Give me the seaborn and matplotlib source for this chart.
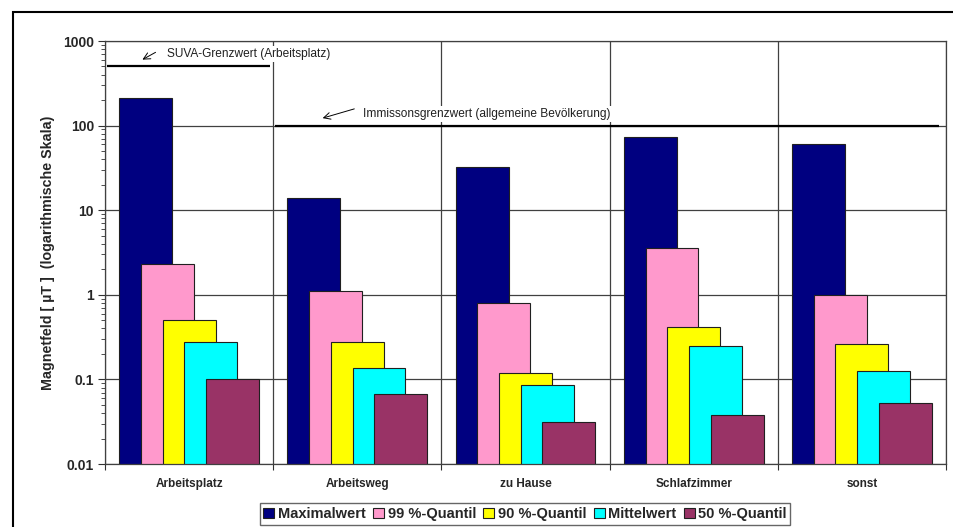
import numpy as np
import pandas as pd
import matplotlib
matplotlib.use("Agg")
import matplotlib.pyplot as plt
import matplotlib.patches as mpatches
import seaborn as sns

# Magnetic field exposure per location (µT)
categories = ["Arbeitsplatz", "Arbeitsweg", "zu Hause", "Schlafzimmer", "sonst"]
series_names = ["Maximalwert", "99 %-Quantil", "90 %-Quantil", "Mittelwert", "50 %-Quantil"]
maximalwert = [210, 14, 32, 74, 60]
quantil_99 = [2.3, 1.1, 0.8, 3.6, 1.0]
quantil_90 = [0.5, 0.28, 0.12, 0.42, 0.26]
mittelwert = [0.28, 0.136, 0.086, 0.25, 0.127]
quantil_50 = [0.1, 0.067, 0.031, 0.038, 0.052]
suva_limit = 500        # workplace limit
immission_limit = 100   # general population limit

series_values = [maximalwert, quantil_99, quantil_90, mittelwert, quantil_50]
colors = ["#000080", "#FF99CC", "#FFFF00", "#00FFFF", "#993366"]

sns.set_theme(style="white")
plt.rcParams["font.family"] = ["Liberation Sans", "DejaVu Sans"]

fig = plt.figure(figsize=(9.54, 5.27), dpi=100)
ax = fig.add_axes([105 / 954, 1 - 464 / 527, (946 - 105) / 954, (464 - 41) / 527])

# Overlapping bars: each series shifted by a fixed step within its category
step = 0.129
bar_width = 0.315
idx = np.arange(len(categories))
for k, (name, vals, col) in enumerate(zip(series_names, series_values, colors)):
    df = pd.DataFrame({"x": idx + (k - 2) * step, "y": vals})
    sns.barplot(data=df, x="x", y="y", native_scale=True, width=bar_width,
                color=col, saturation=1, edgecolor="#202020", linewidth=0.8,
                label=name, ax=ax, zorder=2)
if ax.get_legend() is not None:
    ax.get_legend().remove()

ax.set_yscale("log")
ax.set_ylim(0.01, 1000)
ax.set_xlim(-0.5, len(categories) - 0.5)

# Category boundaries carry the tick marks and vertical grid lines
ax.set_xticks(np.arange(len(categories) + 1) - 0.5)
ax.set_xticklabels([])
ax.set_xticks(idx, minor=True)
ax.set_xticklabels(categories, minor=True, fontsize=8.5, fontweight="bold")
ax.tick_params(axis="x", which="major", direction="out", length=4, width=0.8,
               color="#303030", bottom=True)
ax.tick_params(axis="x", which="minor", length=0, pad=10)

ax.set_yticks([0.01, 0.1, 1, 10, 100, 1000])
ax.set_yticklabels(["0.01", "0.1", "1", "10", "100", "1000"],
                   fontsize=10, fontweight="bold")
ax.yaxis.set_minor_locator(matplotlib.ticker.LogLocator(base=10, subs=np.arange(2, 10)))
ax.yaxis.set_minor_formatter(matplotlib.ticker.NullFormatter())
ax.tick_params(axis="y", which="major", direction="out", length=5, width=0.8,
               color="#303030", left=True, pad=3)
ax.tick_params(axis="y", which="minor", direction="out", length=3, width=0.6,
               color="#303030", left=True)

ax.grid(True, which="major", axis="both", color="#404040", linewidth=0.9, zorder=0)
ax.set_axisbelow(True)
for s in ax.spines.values():
    s.set_color("#404040")
    s.set_linewidth(0.9)

ax.set_xlabel("")
ax.set_ylabel("Magnetfeld [ µT ]  (logarithmische Skala)", fontsize=10.3,
              fontweight="bold", labelpad=6)

# Limit values with their labels (white boxes mask the grid behind the text)
label_box = dict(facecolor="white", edgecolor="none", pad=1.5)
ax.hlines(suva_limit, -0.49, 0.48, color="black", linewidth=1.6, zorder=3)
ax.hlines(immission_limit, 0.51, 4.46, color="black", linewidth=1.6, zorder=3)
ax.annotate("", xy=(-0.292, 581), xytext=(-0.185, 762),
            arrowprops=dict(arrowstyle="->", color="black", lw=0.7))
ax.text(-0.131, 701, "SUVA-Grenzwert (Arbeitsplatz)", fontsize=8.6,
        va="center", ha="left", color="#202020", bbox=label_box, zorder=4)
ax.annotate("", xy=(0.778, 120), xytext=(0.998, 161),
            arrowprops=dict(arrowstyle="->", color="black", lw=0.7))
ax.text(1.034, 137, "Immissonsgrenzwert (allgemeine Bevölkerung)", fontsize=8.6,
        va="center", ha="left", color="#202020", bbox=label_box, zorder=4)

handles, labels = ax.get_legend_handles_labels()
leg = fig.legend(handles, labels, loc="center", ncol=5,
                 bbox_to_anchor=(525 / 954, 1 - 514 / 527),
                 prop={"size": 10.5, "weight": "bold"},
                 frameon=True, fancybox=False, edgecolor="#404040",
                 handlelength=0.75, handleheight=0.75, handletextpad=0.25,
                 columnspacing=0.5, borderpad=0.25, borderaxespad=0)
leg.get_frame().set_linewidth(1.0)

# Outer chart frame
fig.patches.append(mpatches.Rectangle((13 / 954, -0.1), 1.0, 1 - 12 / 527 + 0.1,
                                      transform=fig.transFigure, fill=False,
                                      edgecolor="black", linewidth=1.5))

fig.savefig("out.png", dpi=100)
